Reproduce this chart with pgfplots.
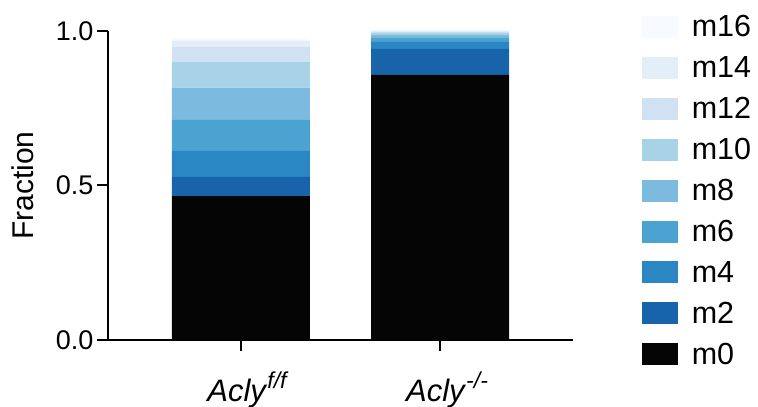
\documentclass[border=0pt]{standalone}
\usepackage{pgfplots}
\pgfplotsset{compat=1.18}
\usepackage{fontspec}
\setmainfont{Liberation Sans}
\definecolor{c0}{HTML}{050505}
\definecolor{c2}{HTML}{1764AB}
\definecolor{c4}{HTML}{2A87C4}
\definecolor{c6}{HTML}{4BA3D2}
\definecolor{c8}{HTML}{7CBBDF}
\definecolor{c10}{HTML}{A8D3E6}
\definecolor{c12}{HTML}{CFE1F2}
\definecolor{c14}{HTML}{E3EEF8}
\definecolor{c16}{HTML}{F7FBFF}
\newcommand{\genosup}[1]{\raisebox{13bp}{\fontsize{23bp}{26bp}\selectfont\textit{#1}}}
\begin{document}
\begin{tikzpicture}
\begin{axis}[
  scale only axis,
  width=465bp, height=309bp,
  xmin=-0.668, xmax=1.668,
  ymin=0, ymax=1,
  clip=false,
  axis lines=left,
  axis line style={-, line width=2bp},
  x axis line style={shorten <=-11bp},
  ybar stacked,
  bar width=138bp,
  xtick={0,1},
  xticklabels={\textit{Acly}\genosup{f/f},\textit{Acly}\genosup{-/-}},
  ytick={0,0.5,1},
  yticklabels={0.0,0.5,1.0},
  tick align=outside,
  major tick length=11bp,
  tick style={line width=2bp, black},
  font=\fontsize{27bp}{32bp}\selectfont,
  yticklabel style={font=\fontsize{27bp}{32bp}\selectfont},
  xticklabel style={anchor=base, yshift=-50bp, xshift=7bp, font=\fontsize{31bp}{36bp}\selectfont},
  ylabel={Fraction},
  ylabel style={at={(rel axis cs:0,0.5)}, anchor=center, yshift=85bp, font=\fontsize{30bp}{36bp}\selectfont},
  reverse legend,
  legend image code/.code={\fill[#1] (0bp,-11bp) rectangle (36bp,11bp);},
  legend style={draw=none, fill=none, at={(rel axis cs:1.148,1.05)}, anchor=north west, inner sep=0pt, outer sep=0pt,
    row sep=18.2bp, legend cell align=left,
    nodes={inner sep=0pt, font=\fontsize{30.5bp}{36bp}\selectfont},
    /tikz/every odd column/.style={column sep=14bp}},
]
\coordinate (o) at (rel axis cs:0,0);
\addplot+[fill=c0, draw=none] coordinates {(0,0.466) (1,0.858)};
\addlegendentry{m0}
\addplot+[fill=c2, draw=none] coordinates {(0,0.062) (1,0.084)};
\addlegendentry{m2}
\addplot+[fill=c4, draw=none] coordinates {(0,0.084) (1,0.023)};
\addlegendentry{m4}
\addplot+[fill=c6, draw=none] coordinates {(0,0.100) (1,0.013)};
\addlegendentry{m6}
\addplot+[fill=c8, draw=none] coordinates {(0,0.105) (1,0.009)};
\addlegendentry{m8}
\addplot+[fill=c10, draw=none] coordinates {(0,0.084) (1,0.007)};
\addlegendentry{m10}
\addplot+[fill=c12, draw=none] coordinates {(0,0.047) (1,0.004)};
\addlegendentry{m12}
\addplot+[fill=c14, draw=none] coordinates {(0,0.021) (1,0.003)};
\addlegendentry{m14}
\addplot+[fill=c16, draw=none] coordinates {(0,0.006) (1,0.002)};
\addlegendentry{m16}
\end{axis}
\pgfresetboundingbox
\path (o) ++(-108bp,-67bp) rectangle ++(758bp,407bp);
\end{tikzpicture}
\end{document}
